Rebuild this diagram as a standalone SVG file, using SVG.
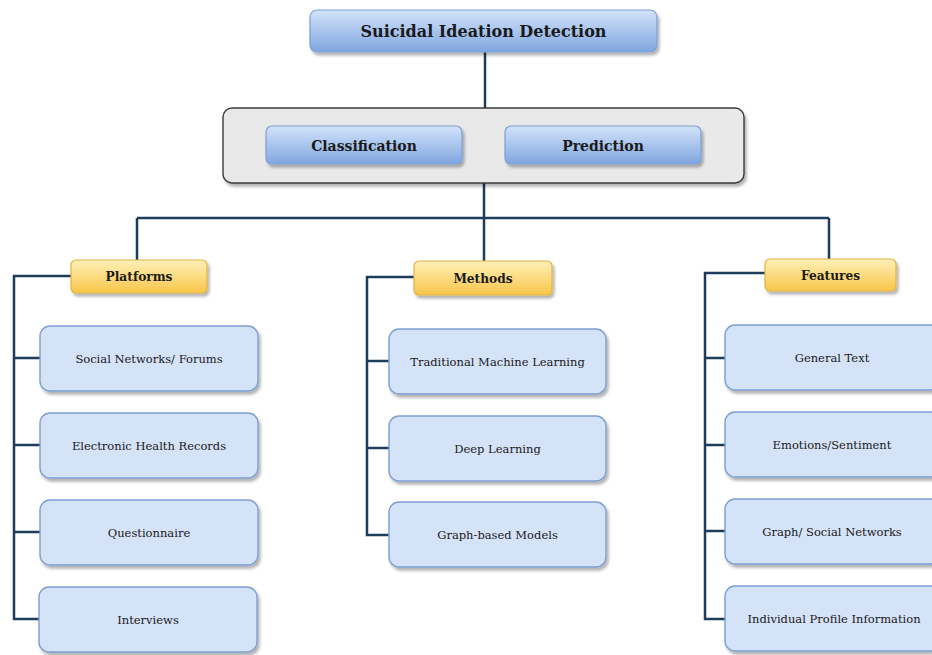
<svg xmlns="http://www.w3.org/2000/svg" width="932" height="655" viewBox="0 0 932 655">
<defs>
<linearGradient id="gBlue" x1="0" y1="0" x2="0" y2="1"><stop offset="0" stop-color="#d3e3fa"/><stop offset="1" stop-color="#7fa6e0"/></linearGradient>
<linearGradient id="gYel" x1="0" y1="0" x2="0" y2="1"><stop offset="0" stop-color="#fff0b8"/><stop offset="1" stop-color="#f8c64a"/></linearGradient>
<filter id="sh" x="-10%" y="-10%" width="130%" height="140%"><feDropShadow dx="2" dy="3" stdDeviation="1.5" flood-color="#000" flood-opacity="0.3"/></filter>
</defs>
<style>
.blue{fill:url(#gBlue);stroke:#7a9fd4;stroke-width:1.2;filter:url(#sh)}
.yel{fill:url(#gYel);stroke:#e2b441;stroke-width:1.2;filter:url(#sh)}
.item{fill:#d5e3f8;stroke:#7c9fd2;stroke-width:1.4;filter:url(#sh)}
.cont{fill:#e9e9e9;stroke:#3a3a3a;stroke-width:1.4;filter:url(#sh)}
.ln{fill:none;stroke:#1e3d5c;stroke-width:2.5}
text{font-family:"DejaVu Serif","Liberation Serif",serif;text-anchor:middle;fill:#1a1a1a}
.hb{font-weight:bold;font-size:16px}
.cb{font-weight:bold;font-size:14px}
.sb{font-weight:bold;font-size:12.2px}
.t{font-size:11.5px}
</style>
<g id="connectors">
<path class="ln" d="M485 52V108"/>
<path class="ln" d="M484 183V218M137 218H829M137 218V260M484 218V262M829 218V259"/>
<path class="ln" d="M71 276H14V619H40M14 358H40M14 445H40M14 532H40"/>
<path class="ln" d="M414 277H367V535H389M367 361H389M367 448H389"/>
<path class="ln" d="M765 273H705V619H725M705 358H725M705 445H725M705 531H725"/>
</g>
<g id="root"><rect class="blue" x="310" y="10" width="347" height="42" rx="7"/><text class="hb" x="483.5" y="37">Suicidal Ideation Detection</text></g>
<g id="container"><rect class="cont" x="223" y="108" width="521" height="75" rx="9"/></g>
<g id="classification"><rect class="blue" x="266" y="126" width="196" height="38" rx="6"/><text class="cb" x="364" y="150.5">Classification</text></g>
<g id="prediction"><rect class="blue" x="505" y="126" width="196" height="38" rx="6"/><text class="cb" x="603" y="150.5">Prediction</text></g>
<g id="platforms"><rect class="yel" x="71" y="260" width="136" height="33" rx="5"/><text class="sb" x="139" y="281">Platforms</text></g>
<g id="methods"><rect class="yel" x="414" y="261" width="138" height="34" rx="5"/><text class="sb" x="483" y="282.5">Methods</text></g>
<g id="features"><rect class="yel" x="765" y="259" width="131" height="32" rx="5"/><text class="sb" x="830.5" y="279.5">Features</text></g>
<g id="p1"><rect class="item" x="40" y="326" width="218" height="65" rx="10"/><text class="t" x="149" y="362.5">Social Networks/ Forums</text></g>
<g id="p2"><rect class="item" x="40" y="413" width="218" height="65" rx="10"/><text class="t" x="149" y="449.5">Electronic Health Records</text></g>
<g id="p3"><rect class="item" x="40" y="500" width="218" height="65" rx="10"/><text class="t" x="149" y="536.5">Questionnaire</text></g>
<g id="p4"><rect class="item" x="39" y="587" width="218" height="65" rx="10"/><text class="t" x="148" y="623.5">Interviews</text></g>
<g id="m1"><rect class="item" x="389" y="329" width="217" height="65" rx="10"/><text class="t" x="497.5" y="365.5">Traditional Machine Learning</text></g>
<g id="m2"><rect class="item" x="389" y="416" width="217" height="65" rx="10"/><text class="t" x="497.5" y="452.5">Deep Learning</text></g>
<g id="m3"><rect class="item" x="389" y="502" width="217" height="65" rx="10"/><text class="t" x="497.5" y="538.5">Graph-based Models</text></g>
<g id="f1"><rect class="item" x="725" y="325" width="216" height="65" rx="10"/><text class="t" x="832" y="361.5">General Text</text></g>
<g id="f2"><rect class="item" x="725" y="412" width="216" height="65" rx="10"/><text class="t" x="832" y="448.5">Emotions/Sentiment</text></g>
<g id="f3"><rect class="item" x="725" y="499" width="216" height="65" rx="10"/><text class="t" x="832" y="535.5">Graph/ Social Networks</text></g>
<g id="f4"><rect class="item" x="725" y="586" width="216" height="65" rx="10"/><text class="t" x="834" y="622.5">Individual Profile Information</text></g>
</svg>
